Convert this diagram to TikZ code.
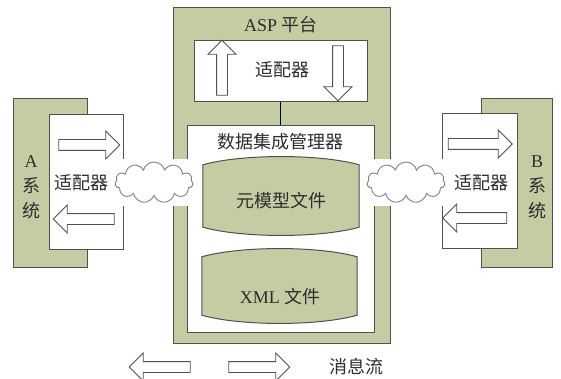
\documentclass[tikz,border=0pt]{standalone}
\usepackage{fontspec}
\setmainfont{Liberation Serif}
\newfontfamily\cjk{Noto Sans CJK SC}
\usepackage{tikz}
\usetikzlibrary{positioning,calc,shapes.arrows,shapes.symbols}
\definecolor{sysgreen}{RGB}{196,204,164}
\definecolor{edgegray}{RGB}{80,80,80}
\definecolor{textgray}{RGB}{45,45,45}

\begin{document}
\begin{tikzpicture}[
  x=1pt, y=-1pt,
  font=\fontsize{18}{21}\selectfont, text=textgray,
  panel/.style={rectangle, draw=edgegray, line width=1pt, inner sep=0pt},
  greenbox/.style={panel, fill=sysgreen},
  whitebox/.style={panel, fill=white},
  drum/.style={draw=edgegray, line width=1pt, fill=sysgreen},
  flow/.style={single arrow, draw=edgegray, fill=white, line width=0.8pt,
               inner xsep=0pt, inner ysep=5pt, single arrow head extend=8.5pt,
               minimum height=61pt},
  vflow/.style={flow, inner xsep=5pt, inner ysep=0pt, minimum height=55pt},
  cloudbg/.style={rectangle, fill=white, inner sep=0pt, minimum width=82pt, minimum height=46pt},
  puff/.style={cloud, cloud puffs=11, aspect=2, draw=gray, fill=white, line width=0.9pt,
               inner sep=0pt, minimum width=78pt, minimum height=41pt},
  vtext/.style={align=center, font=\fontsize{18}{25}\selectfont}
]
  \fill[white] (0,0) rectangle (561,379);
  \useasboundingbox (0,0) rectangle (561,379);

  \node[greenbox, minimum width=217pt, minimum height=335pt] (asp) at (281.5,175.5) {};
  \node (asptext) at (281,25) {ASP {\cjk 平台}};
  \node[whitebox, minimum width=173pt, minimum height=61pt] (topad) at (280.5,71.5) {};
  \node (topadtext) at (282,70) {\cjk 适配器};
  \node[whitebox, minimum width=187pt, minimum height=206pt] (dim) at (280.5,229) {};
  \node (dimtext) at (280,142) {\cjk 数据集成管理器};
  \draw[line width=1.2pt, black] (topad.south) -- (dim.north);

  \node[vflow, shape border rotate=90] (upflow) at (222,70.5) {};
  \node[vflow, shape border rotate=270] (downflow) at (338,70.5) {};

  \node[inner sep=0pt, minimum width=156pt, minimum height=62pt] (meta) at (281,196) {};
  \node[inner sep=0pt, minimum width=155pt, minimum height=58pt] (xmlfile) at (279.5,286) {};
  \foreach \d in {meta, xmlfile} {
    \draw[drum] (\d.north west)
      .. controls ($(\d.north west)!0.25!(\d.north east)+(0,-11)$) and ($(\d.north west)!0.75!(\d.north east)+(0,-11)$) .. (\d.north east)
      -- (\d.south east)
      .. controls ($(\d.south west)!0.75!(\d.south east)+(0,11)$) and ($(\d.south west)!0.25!(\d.south east)+(0,11)$) .. (\d.south west)
      -- cycle;
  }
  \node (metatext) at (281,201) {\cjk 元模型文件};
  \node (xmltext) at (280,297) {XML {\cjk 文件}};

  \node[greenbox, minimum width=74pt, minimum height=168pt] (asys) at (50,183) {};
  \node[whitebox, minimum width=74pt, minimum height=134pt] (aad) at (86,182) {};
  \node[vtext] (asystext) at (31,187) {A\\{\cjk 系}\\{\cjk 统}};
  \node (aadtext) at (81,183) {\cjk 适配器};
  \node[flow] (aout) at (86.5,145) {};
  \node[flow, shape border rotate=180] (ain) at (86.5,219) {};

  \node[greenbox, minimum width=71pt, minimum height=168pt] (bsys) at (516.5,183) {};
  \node[whitebox, minimum width=75pt, minimum height=134pt] (bad) at (479.5,181) {};
  \node[vtext] (bsystext) at (537,187) {B\\{\cjk 系}\\{\cjk 统}};
  \node (badtext) at (481,183) {\cjk 适配器};
  \node[flow, minimum height=64pt] (bout) at (477.5,144) {};
  \node[flow, minimum height=64pt, shape border rotate=180] (bin) at (477.5,218) {};

  \node[cloudbg] (acloudbg) at (154,182.5) {};
  \node[puff] (acloud) at (154,182.5) {};
  \node[cloudbg] (bcloudbg) at (406,182.5) {};
  \node[puff] (bcloud) at (406,182.5) {};

  \node[flow, shape border rotate=180] (legendin) at (162.5,367) {};
  \node[flow] (legendout) at (256.5,367) {};
  \node (legendtext) at (356,367) {\cjk 消息流};
\end{tikzpicture}
\end{document}
